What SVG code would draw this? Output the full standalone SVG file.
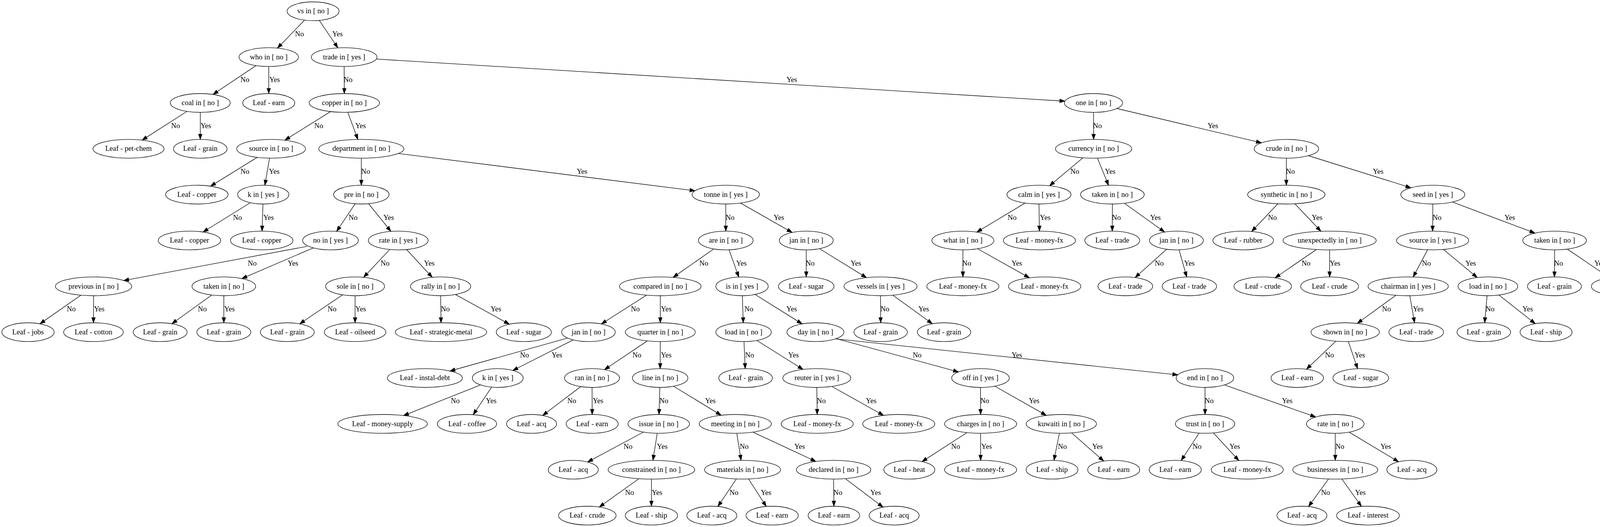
<svg xmlns="http://www.w3.org/2000/svg" width="4237" height="1349" viewBox="0 0 4237 1349">
<defs>
<style>
.node ellipse{fill:none;stroke:#000;stroke-width:1.33}
text{font-family:"Liberation Serif","Times New Roman",serif;font-size:18.67px;text-anchor:middle;fill:#000}
.edges line{stroke:#000;stroke-width:1.33;fill:none;marker-end:url(#arr)}
</style>
<marker id="arr" markerUnits="userSpaceOnUse" markerWidth="15" markerHeight="11" refX="13.3" refY="5" orient="auto" overflow="visible">
<path d="M0,0.33 L13.3,5 L0,9.67 Z" fill="#000" stroke="#000" stroke-width="1"/>
</marker>
</defs>
<rect width="4237" height="1349" fill="#fff"/>
<g id="diagram" transform="matrix(1 0 0 1.001365 0 -0.24)">
<g class="edges" id="edges">
<g><line x1="779.6" y1="51.7" x2="710.2" y2="123.3"/><text x="766.7" y="93.2">No</text></g>
<g><line x1="817.3" y1="52.3" x2="865" y2="122.6"/><text x="864" y="93.2">Yes</text></g>
<g><line x1="655.5" y1="167.9" x2="545.2" y2="241.7"/><text x="627" y="210.4">No</text></g>
<g><line x1="688" y1="170.2" x2="688" y2="239.4"/><text x="703" y="210.4">Yes</text></g>
<g><line x1="881" y1="170.2" x2="881.5" y2="239.4"/><text x="891" y="210.4">No</text></g>
<g><line x1="963.1" y1="151.2" x2="2726.3" y2="258.9"/><text x="2027" y="210.4">Yes</text></g>
<g><line x1="478.9" y1="284.9" x2="363.8" y2="358.4"/><text x="449.5" y="327.6">No</text></g>
<g><line x1="512.7" y1="287.4" x2="512.7" y2="356.6"/><text x="527" y="327.6">Yes</text></g>
<g><line x1="846.2" y1="285.5" x2="729.2" y2="358.6"/><text x="816" y="327.6">No</text></g>
<g><line x1="890.4" y1="287.3" x2="916.1" y2="356.7"/><text x="923" y="327.6">Yes</text></g>
<g><line x1="658.4" y1="402.6" x2="539" y2="476.2"/><text x="627" y="444.8">No</text></g>
<g><line x1="689.9" y1="404.6" x2="678.1" y2="473.8"/><text x="702" y="444.8">Yes</text></g>
<g><line x1="925" y1="404.6" x2="925" y2="473.8"/><text x="936" y="444.8">No</text></g>
<g><line x1="1019.7" y1="392.5" x2="1779.4" y2="487.9"/><text x="1490" y="444.8">Yes</text></g>
<g><line x1="640.7" y1="518.5" x2="519.8" y2="593.4"/><text x="608" y="562">No</text></g>
<g><line x1="673.2" y1="521.8" x2="670.8" y2="591"/><text x="687.5" y="562">Yes</text></g>
<g><line x1="909.2" y1="521.2" x2="861.8" y2="591.6"/><text x="904" y="562">No</text></g>
<g><line x1="943.7" y1="521" x2="1000.7" y2="591.7"/><text x="995" y="562">Yes</text></g>
<g><line x1="786" y1="630" x2="316.4" y2="717.4"/><text x="645.6" y="679.2">No</text></g>
<g><line x1="802" y1="633.9" x2="619.1" y2="712.4"/><text x="750" y="679.2">Yes</text></g>
<g><line x1="997.8" y1="638" x2="930.7" y2="709.2"/><text x="985.6" y="679.2">No</text></g>
<g><line x1="1040.8" y1="638.1" x2="1106.7" y2="709.2"/><text x="1099" y="679.2">Yes</text></g>
<g><line x1="207.2" y1="754.8" x2="102.3" y2="828"/><text x="182.5" y="796.4">No</text></g>
<g><line x1="239.6" y1="756.2" x2="239.3" y2="825.4"/><text x="254" y="796.4">Yes</text></g>
<g><line x1="542.1" y1="754.4" x2="440" y2="827.8"/><text x="518" y="796.4">No</text></g>
<g><line x1="573" y1="756.2" x2="573" y2="825.4"/><text x="587.5" y="796.4">Yes</text></g>
<g><line x1="876.9" y1="753.9" x2="767.1" y2="828.1"/><text x="850" y="796.4">No</text></g>
<g><line x1="909" y1="756.2" x2="909" y2="825.4"/><text x="923.4" y="796.4">Yes</text></g>
<g><line x1="1128" y1="756.2" x2="1129" y2="825.4"/><text x="1140" y="796.4">No</text></g>
<g><line x1="1166" y1="753.1" x2="1303.9" y2="829"/><text x="1269.6" y="796.4">Yes</text></g>
<g><line x1="1858" y1="521.8" x2="1858" y2="591"/><text x="1869" y="562">No</text></g>
<g><line x1="1895.9" y1="519.4" x2="2028" y2="594.5"/><text x="1994" y="562">Yes</text></g>
<g><line x1="1827.2" y1="636.6" x2="1723" y2="709.4"/><text x="1801.6" y="679.2">No</text></g>
<g><line x1="1866.5" y1="638.8" x2="1891.2" y2="708.4"/><text x="1898" y="679.2">Yes</text></g>
<g><line x1="2064" y1="639" x2="2064" y2="708.2"/><text x="2074" y="679.2">No</text></g>
<g><line x1="2097.9" y1="635.9" x2="2218.3" y2="710.1"/><text x="2191" y="679.2">Yes</text></g>
<g><line x1="1655" y1="754.8" x2="1539.5" y2="828.4"/><text x="1626.5" y="796.4">No</text></g>
<g><line x1="1690.4" y1="756.2" x2="1690.4" y2="825.4"/><text x="1705.6" y="796.4">Yes</text></g>
<g><line x1="1900.4" y1="756.2" x2="1902.8" y2="825.4"/><text x="1917" y="796.4">No</text></g>
<g><line x1="1933" y1="753" x2="2053.5" y2="828.2"/><text x="2026.7" y="796.4">Yes</text></g>
<g><line x1="2254.2" y1="756.2" x2="2254.5" y2="825.4"/><text x="2265.3" y="796.4">No</text></g>
<g><line x1="2285.6" y1="754.8" x2="2386.9" y2="827.8"/><text x="2364.7" y="796.4">Yes</text></g>
<g><line x1="1452.9" y1="864.4" x2="1151.7" y2="948.7"/><text x="1342.6" y="913.6">No</text></g>
<g><line x1="1467.4" y1="869.1" x2="1312.7" y2="947.2"/><text x="1425.7" y="913.6">Yes</text></g>
<g><line x1="1657.2" y1="871.7" x2="1547.5" y2="945.2"/><text x="1630.5" y="913.6">No</text></g>
<g><line x1="1690.4" y1="873.4" x2="1690" y2="942.6"/><text x="1705.6" y="913.6">Yes</text></g>
<g><line x1="1904.6" y1="873.4" x2="1907.7" y2="942.6"/><text x="1919" y="913.6">No</text></g>
<g><line x1="1937.4" y1="870.5" x2="2055.9" y2="944.6"/><text x="2031.4" y="913.6">Yes</text></g>
<g><line x1="2141" y1="866" x2="2453.9" y2="951"/><text x="2347.8" y="913.6">No</text></g>
<g><line x1="2139" y1="866.5" x2="3015.4" y2="958.5"/><text x="2603.3" y="913.6">Yes</text></g>
<g><line x1="1230.1" y1="984.2" x2="1032.9" y2="1062.6"/><text x="1165.5" y="1030.8">No</text></g>
<g><line x1="1258.6" y1="989.9" x2="1211.3" y2="1060.3"/><text x="1257.4" y="1030.8">Yes</text></g>
<g><line x1="1486.7" y1="988.5" x2="1389.2" y2="1062.3"/><text x="1463.6" y="1030.8">No</text></g>
<g><line x1="1515.6" y1="990.6" x2="1516" y2="1059.8"/><text x="1531" y="1030.8">Yes</text></g>
<g><line x1="1689.2" y1="990.6" x2="1687.1" y2="1059.8"/><text x="1699.5" y="1030.8">No</text></g>
<g><line x1="1724.4" y1="987.6" x2="1846.2" y2="1061.7"/><text x="1818.5" y="1030.8">Yes</text></g>
<g><line x1="2091" y1="990.6" x2="2092" y2="1059.8"/><text x="2102.4" y="1030.8">No</text></g>
<g><line x1="2129.5" y1="988.1" x2="2261.9" y2="1062"/><text x="2230.2" y="1030.8">Yes</text></g>
<g><line x1="2510" y1="990.6" x2="2510.4" y2="1059.8"/><text x="2521" y="1030.8">No</text></g>
<g><line x1="2546.7" y1="987.4" x2="2678.6" y2="1062.1"/><text x="2647.3" y="1030.8">Yes</text></g>
<g><line x1="3084.7" y1="990.6" x2="3085" y2="1059.8"/><text x="3095.5" y="1030.8">No</text></g>
<g><line x1="3134.8" y1="984.2" x2="3368.2" y2="1066.2"/><text x="3295.3" y="1030.8">Yes</text></g>
<g><line x1="1647.4" y1="1104.7" x2="1504.3" y2="1181.3"/><text x="1607.6" y="1148">No</text></g>
<g><line x1="1682.5" y1="1107.8" x2="1671.5" y2="1177"/><text x="1695.4" y="1148">Yes</text></g>
<g><line x1="1886.2" y1="1107.8" x2="1897.2" y2="1177"/><text x="1905" y="1148">No</text></g>
<g><line x1="1927.4" y1="1104.8" x2="2088.7" y2="1179.9"/><text x="2047" y="1148">Yes</text></g>
<g><line x1="2475.8" y1="1106" x2="2360.3" y2="1180.2"/><text x="2446.5" y="1148">No</text></g>
<g><line x1="2510.4" y1="1107.8" x2="2510.4" y2="1177"/><text x="2525.6" y="1148">Yes</text></g>
<g><line x1="2712.1" y1="1107.7" x2="2698.1" y2="1177.1"/><text x="2719.6" y="1148">No</text></g>
<g><line x1="2743.2" y1="1106.8" x2="2825.6" y2="1178.8"/><text x="2809.5" y="1148">Yes</text></g>
<g><line x1="3069.7" y1="1107.3" x2="3023.8" y2="1177.6"/><text x="3064.4" y="1148">No</text></g>
<g><line x1="3106.2" y1="1106.8" x2="3171.5" y2="1177.7"/><text x="3161" y="1148">Yes</text></g>
<g><line x1="3418.3" y1="1107.8" x2="3418.3" y2="1177"/><text x="3430" y="1148">No</text></g>
<g><line x1="3453.6" y1="1104.9" x2="3580.4" y2="1180.7"/><text x="3547.5" y="1148">Yes</text></g>
<g><line x1="1635.5" y1="1224" x2="1534.1" y2="1296.4"/><text x="1611.6" y="1265.2">No</text></g>
<g><line x1="1667.7" y1="1225" x2="1667.7" y2="1294.2"/><text x="1682" y="1265.2">Yes</text></g>
<g><line x1="1885.1" y1="1224.7" x2="1837.8" y2="1294.9"/><text x="1879" y="1265.2">No</text></g>
<g><line x1="1916.3" y1="1224.7" x2="1961.6" y2="1294.8"/><text x="1961" y="1265.2">Yes</text></g>
<g><line x1="2134" y1="1225" x2="2134.8" y2="1294.2"/><text x="2145" y="1265.2">No</text></g>
<g><line x1="2164.1" y1="1223.8" x2="2260.6" y2="1296.7"/><text x="2241.7" y="1265.2">Yes</text></g>
<g><line x1="3401.1" y1="1224.7" x2="3349.8" y2="1295.1"/><text x="3393.3" y="1265.2">No</text></g>
<g><line x1="3435.2" y1="1224.7" x2="3485.2" y2="1294.7"/><text x="3482.5" y="1265.2">Yes</text></g>
<g><line x1="2799.4" y1="287.4" x2="2799.7" y2="356.6"/><text x="2809.5" y="327.6">No</text></g>
<g><line x1="2859.3" y1="277.6" x2="3229.4" y2="365.4"/><text x="3105" y="327.6">Yes</text></g>
<g><line x1="2772.2" y1="403.6" x2="2686.8" y2="475.1"/><text x="2751.4" y="444.8">No</text></g>
<g><line x1="2809.5" y1="404.5" x2="2837.9" y2="474"/><text x="2842" y="444.8">Yes</text></g>
<g><line x1="3293.3" y1="404.6" x2="3293" y2="473.8"/><text x="3303.4" y="444.8">No</text></g>
<g><line x1="3349.5" y1="398.2" x2="3612" y2="480.3"/><text x="3528" y="444.8">Yes</text></g>
<g><line x1="2623.9" y1="519.4" x2="2500.6" y2="593.6"/><text x="2591" y="562">No</text></g>
<g><line x1="2659.8" y1="521.8" x2="2661" y2="591"/><text x="2675.7" y="562">Yes</text></g>
<g><line x1="2847.7" y1="521.8" x2="2847.4" y2="591"/><text x="2858" y="562">No</text></g>
<g><line x1="2878.7" y1="520" x2="2981.4" y2="593.4"/><text x="2958" y="562">Yes</text></g>
<g><line x1="3271" y1="521.2" x2="3204.3" y2="592"/><text x="3257.4" y="562">No</text></g>
<g><line x1="3315.1" y1="521.2" x2="3381.5" y2="591.4"/><text x="3371.7" y="562">Yes</text></g>
<g><line x1="3668" y1="521.8" x2="3667.4" y2="591"/><text x="3678.6" y="562">No</text></g>
<g><line x1="3718.4" y1="516.7" x2="3929.5" y2="596.1"/><text x="3865" y="562">Yes</text></g>
<g><line x1="2465" y1="639" x2="2465" y2="708.2"/><text x="2475" y="679.2">No</text></g>
<g><line x1="2502.7" y1="636.1" x2="2635.4" y2="710.4"/><text x="2603" y="679.2">Yes</text></g>
<g><line x1="2986.6" y1="637.4" x2="2905.8" y2="709.8"/><text x="2967.7" y="679.2">No</text></g>
<g><line x1="3018.4" y1="638.9" x2="3038" y2="708.3"/><text x="3044.8" y="679.2">Yes</text></g>
<g><line x1="3370.2" y1="638" x2="3264.3" y2="710.5"/><text x="3343.3" y="679.2">No</text></g>
<g><line x1="3403.8" y1="639" x2="3403.8" y2="708.2"/><text x="3417.7" y="679.2">Yes</text></g>
<g><line x1="3654.7" y1="638.8" x2="3617.6" y2="708.4"/><text x="3651.6" y="679.2">No</text></g>
<g><line x1="3695.1" y1="637.9" x2="3781.9" y2="709.8"/><text x="3765" y="679.2">Yes</text></g>
<g><line x1="3979.8" y1="639" x2="3979.4" y2="708.2"/><text x="3990" y="679.2">No</text></g>
<g><line x1="4012.3" y1="637" x2="4120.5" y2="710.3"/><text x="4095" y="679.2">Yes</text></g>
<g><line x1="3573.5" y1="755.1" x2="3474.6" y2="826.9"/><text x="3549.5" y="796.4">No</text></g>
<g><line x1="3609.1" y1="756.1" x2="3621.3" y2="825.4"/><text x="3630.6" y="796.4">Yes</text></g>
<g><line x1="3806.9" y1="756.2" x2="3800.7" y2="825.4"/><text x="3814.5" y="796.4">No</text></g>
<g><line x1="3837.3" y1="754.5" x2="3930.3" y2="827.6"/><text x="3911" y="796.4">Yes</text></g>
<g><line x1="3419.6" y1="872.5" x2="3344.5" y2="944.1"/><text x="3403.5" y="913.6">No</text></g>
<g><line x1="3451.8" y1="873.3" x2="3475.5" y2="942.8"/><text x="3481" y="913.6">Yes</text></g>
</g>
<g id="n0" class="node"><ellipse cx="801.5" cy="29" rx="66.5" ry="24"/><text x="801.5" y="34.6">vs in [ no ]</text></g>
<g id="n1" class="node"><ellipse cx="688" cy="146.2" rx="76" ry="24"/><text x="688" y="151.8">who in [ no ]</text></g>
<g id="n2" class="node"><ellipse cx="881" cy="146.2" rx="84" ry="24"/><text x="881" y="151.8">trade in [ yes ]</text></g>
<g id="n3" class="node"><ellipse cx="512.7" cy="263.4" rx="76.7" ry="24"/><text x="512.7" y="269">coal in [ no ]</text></g>
<g id="n4" class="node"><ellipse cx="688" cy="263.4" rx="66.6" ry="24"/><text x="688" y="269">Leaf - earn</text></g>
<g id="n5" class="node"><ellipse cx="881.5" cy="263.4" rx="90" ry="24"/><text x="881.5" y="269">copper in [ no ]</text></g>
<g id="n82" class="node"><ellipse cx="2799.4" cy="263.4" rx="74.4" ry="24"/><text x="2799.4" y="269">one in [ no ]</text></g>
<g id="n6" class="node"><ellipse cx="329" cy="380.6" rx="91" ry="24"/><text x="329" y="386.2">Leaf - pet-chem</text></g>
<g id="n7" class="node"><ellipse cx="512.7" cy="380.6" rx="68.6" ry="24"/><text x="512.7" y="386.2">Leaf - grain</text></g>
<g id="n8" class="node"><ellipse cx="694" cy="380.6" rx="88" ry="24"/><text x="694" y="386.2">source in [ no ]</text></g>
<g id="n9" class="node"><ellipse cx="925" cy="380.6" rx="109" ry="24"/><text x="925" y="386.2">department in [ no ]</text></g>
<g id="n83" class="node"><ellipse cx="2799.7" cy="380.6" rx="97.7" ry="24"/><text x="2799.7" y="386.2">currency in [ no ]</text></g>
<g id="n84" class="node"><ellipse cx="3293.3" cy="380.6" rx="82.5" ry="24"/><text x="3293.3" y="386.2">crude in [ no ]</text></g>
<g id="n10" class="node"><ellipse cx="504" cy="497.8" rx="80" ry="24"/><text x="504" y="503.4">Leaf - copper</text></g>
<g id="n11" class="node"><ellipse cx="674" cy="497.8" rx="65.6" ry="24"/><text x="674" y="503.4">k in [ yes ]</text></g>
<g id="n12" class="node"><ellipse cx="925" cy="497.8" rx="71" ry="24"/><text x="925" y="503.4">pre in [ no ]</text></g>
<g id="n29" class="node"><ellipse cx="1858" cy="497.8" rx="86.2" ry="24"/><text x="1858" y="503.4">tonne in [ yes ]</text></g>
<g id="n85" class="node"><ellipse cx="2659.8" cy="497.8" rx="82" ry="24"/><text x="2659.8" y="503.4">calm in [ yes ]</text></g>
<g id="n86" class="node"><ellipse cx="2847.7" cy="497.8" rx="81.5" ry="24"/><text x="2847.7" y="503.4">taken in [ no ]</text></g>
<g id="n87" class="node"><ellipse cx="3293" cy="497.8" rx="99" ry="24"/><text x="3293" y="503.4">synthetic in [ no ]</text></g>
<g id="n88" class="node"><ellipse cx="3668" cy="497.8" rx="82" ry="24"/><text x="3668" y="503.4">seed in [ yes ]</text></g>
<g id="n13" class="node"><ellipse cx="485" cy="615" rx="80" ry="24"/><text x="485" y="620.6">Leaf - copper</text></g>
<g id="n14" class="node"><ellipse cx="670" cy="615" rx="80" ry="24"/><text x="670" y="620.6">Leaf - copper</text></g>
<g id="n15" class="node"><ellipse cx="846" cy="615" rx="71.3" ry="24"/><text x="846" y="620.6">no in [ yes ]</text></g>
<g id="n16" class="node"><ellipse cx="1019.5" cy="615" rx="76.5" ry="24"/><text x="1019.5" y="620.6">rate in [ yes ]</text></g>
<g id="n30" class="node"><ellipse cx="1858" cy="615" rx="70" ry="24"/><text x="1858" y="620.6">are in [ no ]</text></g>
<g id="n31" class="node"><ellipse cx="2064" cy="615" rx="69" ry="24"/><text x="2064" y="620.6">jan in [ no ]</text></g>
<g id="n89" class="node"><ellipse cx="2465" cy="615" rx="79.4" ry="24"/><text x="2465" y="620.6">what in [ no ]</text></g>
<g id="n90" class="node"><ellipse cx="2661" cy="615" rx="92.3" ry="24"/><text x="2661" y="620.6">Leaf - money-fx</text></g>
<g id="n91" class="node"><ellipse cx="2847.4" cy="615" rx="70.3" ry="24"/><text x="2847.4" y="620.6">Leaf - trade</text></g>
<g id="n92" class="node"><ellipse cx="3011.6" cy="615" rx="69" ry="24"/><text x="3011.6" y="620.6">jan in [ no ]</text></g>
<g id="n93" class="node"><ellipse cx="3182.6" cy="615" rx="77.6" ry="24"/><text x="3182.6" y="620.6">Leaf - rubber</text></g>
<g id="n94" class="node"><ellipse cx="3403.8" cy="615" rx="119.3" ry="24"/><text x="3403.8" y="620.6">unexpectedly in [ no ]</text></g>
<g id="n95" class="node"><ellipse cx="3667.4" cy="615" rx="92.3" ry="24"/><text x="3667.4" y="620.6">source in [ yes ]</text></g>
<g id="n96" class="node"><ellipse cx="3979.8" cy="615" rx="81.5" ry="24"/><text x="3979.8" y="620.6">taken in [ no ]</text></g>
<g id="n17" class="node"><ellipse cx="239.6" cy="732.2" rx="97.7" ry="24"/><text x="239.6" y="737.8">previous in [ no ]</text></g>
<g id="n18" class="node"><ellipse cx="573" cy="732.2" rx="81.5" ry="24"/><text x="573" y="737.8">taken in [ no ]</text></g>
<g id="n23" class="node"><ellipse cx="909" cy="732.2" rx="75.4" ry="24"/><text x="909" y="737.8">sole in [ no ]</text></g>
<g id="n24" class="node"><ellipse cx="1128" cy="732.2" rx="77" ry="24"/><text x="1128" y="737.8">rally in [ no ]</text></g>
<g id="n32" class="node"><ellipse cx="1690.4" cy="732.2" rx="104.4" ry="24"/><text x="1690.4" y="737.8">compared in [ no ]</text></g>
<g id="n33" class="node"><ellipse cx="1899.6" cy="732.2" rx="67" ry="24"/><text x="1899.6" y="737.8">is in [ yes ]</text></g>
<g id="n34" class="node"><ellipse cx="2064" cy="732.2" rx="71" ry="24"/><text x="2064" y="737.8">Leaf - sugar</text></g>
<g id="n35" class="node"><ellipse cx="2254.2" cy="732.2" rx="93.6" ry="24"/><text x="2254.2" y="737.8">vessels in [ yes ]</text></g>
<g id="n97" class="node"><ellipse cx="2465" cy="732.2" rx="92.3" ry="24"/><text x="2465" y="737.8">Leaf - money-fx</text></g>
<g id="n98" class="node"><ellipse cx="2674.3" cy="732.2" rx="92.6" ry="24"/><text x="2674.3" y="737.8">Leaf - money-fx</text></g>
<g id="n99" class="node"><ellipse cx="2880.8" cy="732.2" rx="70" ry="24"/><text x="2880.8" y="737.8">Leaf - trade</text></g>
<g id="n100" class="node"><ellipse cx="3044.8" cy="732.2" rx="69.6" ry="24"/><text x="3044.8" y="737.8">Leaf - trade</text></g>
<g id="n101" class="node"><ellipse cx="3232.6" cy="732.2" rx="73.6" ry="24"/><text x="3232.6" y="737.8">Leaf - crude</text></g>
<g id="n102" class="node"><ellipse cx="3403.8" cy="732.2" rx="74" ry="24"/><text x="3403.8" y="737.8">Leaf - crude</text></g>
<g id="n103" class="node"><ellipse cx="3604.9" cy="732.2" rx="102.8" ry="24"/><text x="3604.9" y="737.8">chairman in [ yes ]</text></g>
<g id="n104" class="node"><ellipse cx="3809" cy="732.2" rx="76.4" ry="24"/><text x="3809" y="737.8">load in [ no ]</text></g>
<g id="n105" class="node"><ellipse cx="3979.4" cy="732.2" rx="69" ry="24"/><text x="3979.4" y="737.8">Leaf - grain</text></g>
<g id="n106" class="node"><ellipse cx="4152.8" cy="732.2" rx="78.8" ry="24"/><text x="4152.8" y="737.8">Leaf - oilseed</text></g>
<g id="n19" class="node"><ellipse cx="71.7" cy="849.4" rx="67" ry="24"/><text x="71.7" y="855">Leaf - jobs</text></g>
<g id="n20" class="node"><ellipse cx="239.3" cy="849.4" rx="76.4" ry="24"/><text x="239.3" y="855">Leaf - cotton</text></g>
<g id="n21" class="node"><ellipse cx="410" cy="849.4" rx="69" ry="24"/><text x="410" y="855">Leaf - grain</text></g>
<g id="n22" class="node"><ellipse cx="573" cy="849.4" rx="69" ry="24"/><text x="573" y="855">Leaf - grain</text></g>
<g id="n25" class="node"><ellipse cx="735.5" cy="849.4" rx="69" ry="24"/><text x="735.5" y="855">Leaf - grain</text></g>
<g id="n26" class="node"><ellipse cx="909" cy="849.4" rx="78.8" ry="24"/><text x="909" y="855">Leaf - oilseed</text></g>
<g id="n27" class="node"><ellipse cx="1129" cy="849.4" rx="117" ry="24"/><text x="1129" y="855">Leaf - strategic-metal</text></g>
<g id="n28" class="node"><ellipse cx="1341" cy="849.4" rx="70.6" ry="24"/><text x="1341" y="855">Leaf - sugar</text></g>
<g id="n36" class="node"><ellipse cx="1506.5" cy="849.4" rx="68.6" ry="24"/><text x="1506.5" y="855">jan in [ no ]</text></g>
<g id="n37" class="node"><ellipse cx="1690.4" cy="849.4" rx="89.6" ry="24"/><text x="1690.4" y="855">quarter in [ no ]</text></g>
<g id="n38" class="node"><ellipse cx="1903.6" cy="849.4" rx="71" ry="24"/><text x="1903.6" y="855">load in [ no ]</text></g>
<g id="n39" class="node"><ellipse cx="2087.5" cy="849.4" rx="73" ry="24"/><text x="2087.5" y="855">day in [ no ]</text></g>
<g id="n40" class="node"><ellipse cx="2254.5" cy="849.4" rx="68.3" ry="24"/><text x="2254.5" y="855">Leaf - grain</text></g>
<g id="n41" class="node"><ellipse cx="2416.8" cy="849.4" rx="68.3" ry="24"/><text x="2416.8" y="855">Leaf - grain</text></g>
<g id="n107" class="node"><ellipse cx="3443.7" cy="849.4" rx="87.5" ry="24"/><text x="3443.7" y="855">shown in [ no ]</text></g>
<g id="n108" class="node"><ellipse cx="3625.5" cy="849.4" rx="70" ry="24"/><text x="3625.5" y="855">Leaf - trade</text></g>
<g id="n109" class="node"><ellipse cx="3798.6" cy="849.4" rx="68.6" ry="24"/><text x="3798.6" y="855">Leaf - grain</text></g>
<g id="n110" class="node"><ellipse cx="3958" cy="849.4" rx="66.6" ry="24"/><text x="3958" y="855">Leaf - ship</text></g>
<g id="n42" class="node"><ellipse cx="1087.7" cy="966.6" rx="96" ry="24"/><text x="1087.7" y="972.2">Leaf - instal-debt</text></g>
<g id="n43" class="node"><ellipse cx="1274.3" cy="966.6" rx="65" ry="24"/><text x="1274.3" y="972.2">k in [ yes ]</text></g>
<g id="n44" class="node"><ellipse cx="1515.6" cy="966.6" rx="70.3" ry="24"/><text x="1515.6" y="972.2">ran in [ no ]</text></g>
<g id="n45" class="node"><ellipse cx="1690" cy="966.6" rx="71" ry="24"/><text x="1690" y="972.2">line in [ no ]</text></g>
<g id="n46" class="node"><ellipse cx="1908.7" cy="966.6" rx="68.6" ry="24"/><text x="1908.7" y="972.2">Leaf - grain</text></g>
<g id="n47" class="node"><ellipse cx="2091" cy="966.6" rx="87" ry="24"/><text x="2091" y="972.2">reuter in [ yes ]</text></g>
<g id="n48" class="node"><ellipse cx="2510" cy="966.6" rx="73.7" ry="24"/><text x="2510" y="972.2">off in [ yes ]</text></g>
<g id="n49" class="node"><ellipse cx="3084.7" cy="966.6" rx="73.7" ry="24"/><text x="3084.7" y="972.2">end in [ no ]</text></g>
<g id="n111" class="node"><ellipse cx="3321" cy="966.6" rx="67" ry="24"/><text x="3321" y="972.2">Leaf - earn</text></g>
<g id="n112" class="node"><ellipse cx="3483.6" cy="966.6" rx="71.3" ry="24"/><text x="3483.6" y="972.2">Leaf - sugar</text></g>
<g id="n50" class="node"><ellipse cx="979.5" cy="1083.8" rx="114.5" ry="24"/><text x="979.5" y="1089.4">Leaf - money-supply</text></g>
<g id="n51" class="node"><ellipse cx="1195.5" cy="1083.8" rx="76" ry="24"/><text x="1195.5" y="1089.4">Leaf - coffee</text></g>
<g id="n52" class="node"><ellipse cx="1360.8" cy="1083.8" rx="64" ry="24"/><text x="1360.8" y="1089.4">Leaf - acq</text></g>
<g id="n53" class="node"><ellipse cx="1516" cy="1083.8" rx="66.6" ry="24"/><text x="1516" y="1089.4">Leaf - earn</text></g>
<g id="n54" class="node"><ellipse cx="1686.3" cy="1083.8" rx="78.8" ry="24"/><text x="1686.3" y="1089.4">issue in [ no ]</text></g>
<g id="n55" class="node"><ellipse cx="1882.4" cy="1083.8" rx="92.3" ry="24"/><text x="1882.4" y="1089.4">meeting in [ no ]</text></g>
<g id="n56" class="node"><ellipse cx="2092" cy="1083.8" rx="92.3" ry="24"/><text x="2092" y="1089.4">Leaf - money-fx</text></g>
<g id="n57" class="node"><ellipse cx="2300.8" cy="1083.8" rx="92.3" ry="24"/><text x="2300.8" y="1089.4">Leaf - money-fx</text></g>
<g id="n58" class="node"><ellipse cx="2510.4" cy="1083.8" rx="92.3" ry="24"/><text x="2510.4" y="1089.4">charges in [ no ]</text></g>
<g id="n59" class="node"><ellipse cx="2717" cy="1083.8" rx="90" ry="24"/><text x="2717" y="1089.4">kuwaiti in [ no ]</text></g>
<g id="n60" class="node"><ellipse cx="3085" cy="1083.8" rx="76" ry="24"/><text x="3085" y="1089.4">trust in [ no ]</text></g>
<g id="n61" class="node"><ellipse cx="3418.3" cy="1083.8" rx="73.7" ry="24"/><text x="3418.3" y="1089.4">rate in [ no ]</text></g>
<g id="n62" class="node"><ellipse cx="1467.6" cy="1201" rx="64" ry="24"/><text x="1467.6" y="1206.6">Leaf - acq</text></g>
<g id="n63" class="node"><ellipse cx="1667.7" cy="1201" rx="110.9" ry="24"/><text x="1667.7" y="1206.6">constrained in [ no ]</text></g>
<g id="n64" class="node"><ellipse cx="1901" cy="1201" rx="97.3" ry="24"/><text x="1901" y="1206.6">materials in [ no ]</text></g>
<g id="n65" class="node"><ellipse cx="2134" cy="1201" rx="95.3" ry="24"/><text x="2134" y="1206.6">declared in [ no ]</text></g>
<g id="n66" class="node"><ellipse cx="2327.9" cy="1201" rx="65.2" ry="24"/><text x="2327.9" y="1206.6">Leaf - heat</text></g>
<g id="n67" class="node"><ellipse cx="2510.4" cy="1201" rx="92.3" ry="24"/><text x="2510.4" y="1206.6">Leaf - money-fx</text></g>
<g id="n68" class="node"><ellipse cx="2693.2" cy="1201" rx="66.3" ry="24"/><text x="2693.2" y="1206.6">Leaf - ship</text></g>
<g id="n69" class="node"><ellipse cx="2851" cy="1201" rx="66.6" ry="24"/><text x="2851" y="1206.6">Leaf - earn</text></g>
<g id="n70" class="node"><ellipse cx="3008.6" cy="1201" rx="66.6" ry="24"/><text x="3008.6" y="1206.6">Leaf - earn</text></g>
<g id="n71" class="node"><ellipse cx="3193" cy="1201" rx="92.3" ry="24"/><text x="3193" y="1206.6">Leaf - money-fx</text></g>
<g id="n72" class="node"><ellipse cx="3418.3" cy="1201" rx="108.8" ry="24"/><text x="3418.3" y="1206.6">businesses in [ no ]</text></g>
<g id="n73" class="node"><ellipse cx="3614.4" cy="1201" rx="64" ry="24"/><text x="3614.4" y="1206.6">Leaf - acq</text></g>
<g id="n74" class="node"><ellipse cx="1503.5" cy="1318.2" rx="73.7" ry="24"/><text x="1503.5" y="1323.8">Leaf - crude</text></g>
<g id="n75" class="node"><ellipse cx="1667.7" cy="1318.2" rx="67" ry="24"/><text x="1667.7" y="1323.8">Leaf - ship</text></g>
<g id="n76" class="node"><ellipse cx="1822.2" cy="1318.2" rx="64" ry="24"/><text x="1822.2" y="1323.8">Leaf - acq</text></g>
<g id="n77" class="node"><ellipse cx="1976.7" cy="1318.2" rx="66.9" ry="24"/><text x="1976.7" y="1323.8">Leaf - earn</text></g>
<g id="n78" class="node"><ellipse cx="2134.8" cy="1318.2" rx="66" ry="24"/><text x="2134.8" y="1323.8">Leaf - earn</text></g>
<g id="n79" class="node"><ellipse cx="2289" cy="1318.2" rx="64" ry="24"/><text x="2289" y="1323.8">Leaf - acq</text></g>
<g id="n80" class="node"><ellipse cx="3333" cy="1318.2" rx="64" ry="24"/><text x="3333" y="1323.8">Leaf - acq</text></g>
<g id="n81" class="node"><ellipse cx="3502" cy="1318.2" rx="80.4" ry="24"/><text x="3502" y="1323.8">Leaf - interest</text></g>
</g>
</svg>
